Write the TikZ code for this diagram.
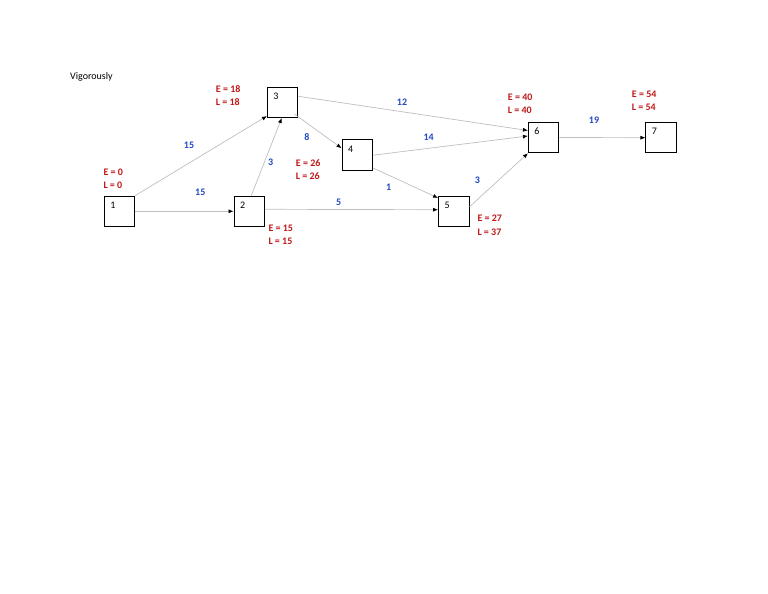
\documentclass[tikz,border=0pt]{standalone}
\usepackage{fontspec}
\setmainfont{Carlito}
\usepackage{xcolor}
\usetikzlibrary{arrows.meta}
\definecolor{tempo}{RGB}{192,24,24}
\definecolor{duracao}{RGB}{34,72,196}
\tikzset{
  caixa/.style={draw, line width=1pt, fill=white, minimum width=30.5pt, minimum height=30.5pt,
    text width=18.5pt, inner xsep=6pt, align=left, text height=6pt, text depth=12pt,
    font=\fontsize{10}{11}\selectfont},
  seta/.style={draw=gray!50, line width=0.7pt, -{Latex[black,length=5pt,width=4pt]}},
  dur/.style={text=duracao, font=\bfseries\fontsize{10}{12}\selectfont, inner sep=0pt},
  tempos/.style={text=tempo, font=\bfseries\fontsize{10}{13.3}\selectfont, align=left,
    anchor=north west, inner sep=0pt},
}

\begin{document}
\begin{tikzpicture}[x=1pt, y=-1pt]
  \fill[white] (0,0) rectangle (768,594);
  \useasboundingbox (0,0) rectangle (768,594);

  \node[anchor=base west, inner sep=0pt, font=\fontsize{10}{12}\selectfont] (titulo) at (70,80) {Vigorously};

  % eventos
  \node[caixa] (n1) at (119.5,211.3) {1};
  \node[caixa] (n2) at (249.3,211.3) {2};
  \node[caixa] (n3) at (282.7,102.3) {3};
  \node[caixa] (n4) at (357.3,155.2) {4};
  \node[caixa] (n5) at (453.8,211.7) {5};
  \node[caixa] (n6) at (543.7,137.5) {6};
  \node[caixa] (n7) at (661.2,137.7) {7};

  % atividades
  \draw[seta] (n1.north east) -- ([yshift=2pt]n3.south west);
  \draw[seta] (n1.east) -- (n2.west);
  \draw[seta] ([xshift=2pt]n2.north) -- ([xshift=-1pt]n3.south);
  \draw[seta] ([xshift=-4pt,yshift=4pt]n3.south east) -- ([yshift=7pt]n4.west);
  \draw[seta] ([yshift=6pt]n3.east) -- ([yshift=7pt]n6.west);
  \draw[seta] (n4.east) -- ([yshift=1.5pt]n6.west);
  \draw[seta] ([yshift=3pt]n4.south east) -- ([yshift=-2pt]n5.north west);
  \draw[seta] ([yshift=2pt]n2.east) -- ([yshift=2pt]n5.west);
  \draw[seta] ([yshift=5pt]n5.east) -- (n6.south west);
  \draw[seta] (n6.east) -- (n7.west);

  % duracoes
  \node[dur] (d13) at (189,145.3) {15};
  \node[dur] (d12) at (200.3,192.7) {15};
  \node[dur] (d23) at (270.7,162.7) {3};
  \node[dur] (d34) at (307,137.3) {8};
  \node[dur] (d36) at (402,102) {12};
  \node[dur] (d46) at (428.7,137.3) {14};
  \node[dur] (d45) at (388.7,187.7) {1};
  \node[dur] (d25) at (338.7,202) {5};
  \node[dur] (d56) at (477.3,180.7) {3};
  \node[dur] (d67) at (594,120) {19};

  % tempos cedo / tarde
  \node[tempos] (t1) at (103.3,168.3) {E = 0\\L = 0};
  \node[tempos] (t3) at (215.7,85) {E = 18\\L = 18};
  \node[tempos] (t2) at (268.3,225) {E = 15\\L = 15};
  \node[tempos] (t4) at (295.7,159) {E = 26\\L = 26};
  \node[tempos] (t6) at (507.7,93.3) {E = 40\\L = 40};
  \node[tempos] (t5) at (477.3,215) {E = 27\\L = 37};
  \node[tempos] (t7) at (631.7,90.7) {E = 54\\L = 54};
\end{tikzpicture}
\end{document}
